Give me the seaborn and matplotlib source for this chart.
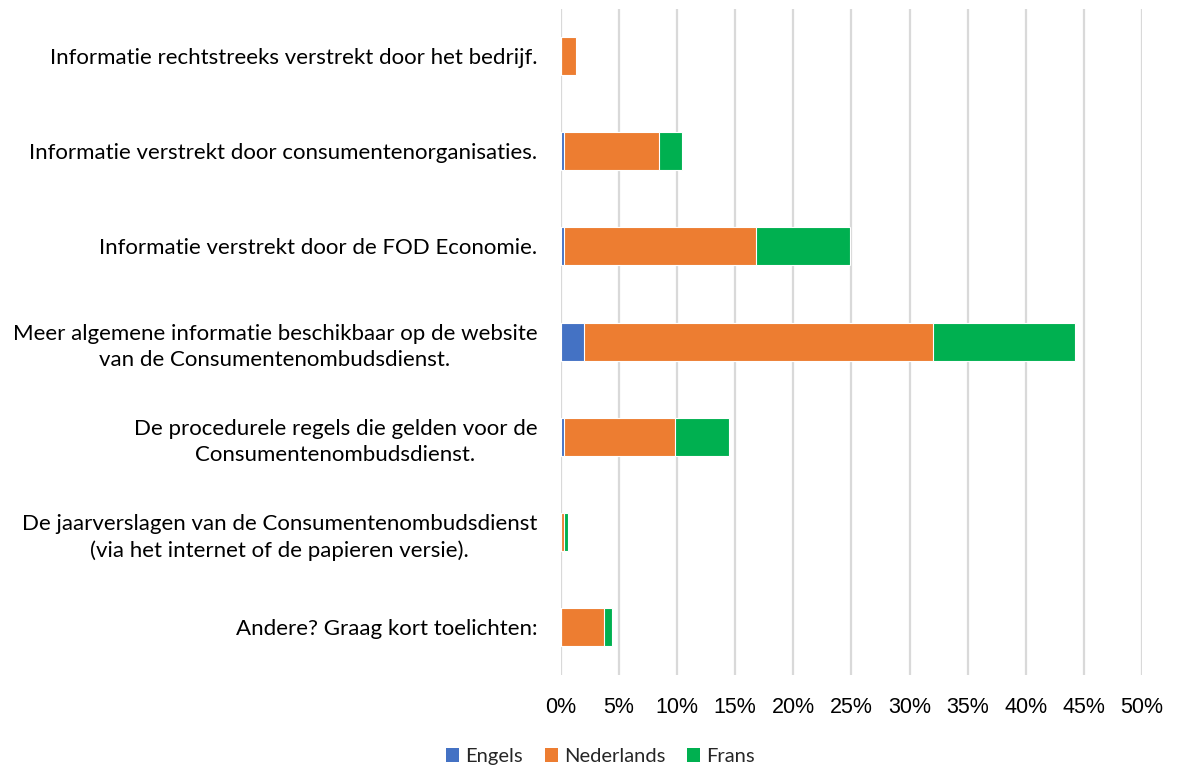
import matplotlib
matplotlib.use("Agg")
import matplotlib.pyplot as plt
import seaborn as sns
import pandas as pd
from matplotlib.patches import Patch
from matplotlib.ticker import FuncFormatter, MultipleLocator

# Information sources (percent of respondents), split by language
categories = [
    "Informatie rechtstreeks verstrekt door het bedrijf.",
    "Informatie verstrekt door consumentenorganisaties.",
    "Informatie verstrekt door de FOD Economie.",
    "Meer algemene informatie beschikbaar op de website\nvan de Consumentenombudsdienst.",
    "De procedurele regels die gelden voor de\nConsumentenombudsdienst.",
    "De jaarverslagen van de Consumentenombudsdienst\n(via het internet of de papieren versie).",
    "Andere? Graag kort toelichten:",
]
engels = [0.0, 0.3, 0.3, 2.0, 0.3, 0.0, 0.0]
nederlands = [1.3, 8.1, 16.5, 30.0, 9.5, 0.3, 3.7]
frans = [0.0, 2.0, 8.1, 12.2, 4.7, 0.3, 0.7]

series_names = ["Engels", "Nederlands", "Frans"]
colors = {"Engels": "#4472C4", "Nederlands": "#ED7D31", "Frans": "#00B050"}

df = pd.DataFrame({"categorie": categories, "Engels": engels,
                   "Nederlands": nederlands, "Frans": frans})
df["cum_Engels"] = df["Engels"]
df["cum_Nederlands"] = df["Engels"] + df["Nederlands"]
df["cum_Frans"] = df["cum_Nederlands"] + df["Frans"]

sns.set_theme(style="white")
plt.rcParams["font.family"] = ["Lato", "DejaVu Sans"]

fig = plt.figure(figsize=(11.77, 7.69), dpi=100)
ax = fig.add_axes([0.4766, 0.1228, 0.4936, 0.866])

# Stacked bars: draw cumulative totals from the outermost segment inwards
for name in reversed(series_names):
    sns.barplot(data=df, y="categorie", x=f"cum_{name}", color=colors[name],
                orient="h", width=0.4, saturation=1, edgecolor="white",
                linewidth=0.8, ax=ax, zorder=3)

ax.set_xlim(0, 50)
ax.xaxis.set_major_locator(MultipleLocator(5))
ax.xaxis.set_major_formatter(FuncFormatter(lambda v, p: f"{v:.0f}%"))
ax.set_xlabel("")
ax.set_ylabel("")
ax.grid(axis="x", color="#D9D9D9", linewidth=1.6, zorder=0)
ax.grid(axis="y", visible=False)
for s in ax.spines.values():
    s.set_visible(False)

ax.tick_params(axis="x", length=0, pad=16, labelsize=15.5, colors="#000000")
ax.tick_params(axis="y", length=0, pad=17, labelsize=16, colors="#000000")
for lbl in ax.get_xticklabels():
    lbl.set_family(["Liberation Sans", "DejaVu Sans"])
for lbl in ax.get_yticklabels():
    lbl.set_multialignment("center")
    lbl.set_linespacing(1.4)

handles = [Patch(facecolor=colors[n], edgecolor="none") for n in series_names]
fig.legend(handles, series_names, loc="center", bbox_to_anchor=(0.51, 0.016),
           ncol=3, frameon=False, fontsize=14.5, handlelength=0.65,
           handleheight=0.65, handletextpad=0.3, columnspacing=1.1)

fig.savefig("out.png", dpi=100, facecolor="white")
